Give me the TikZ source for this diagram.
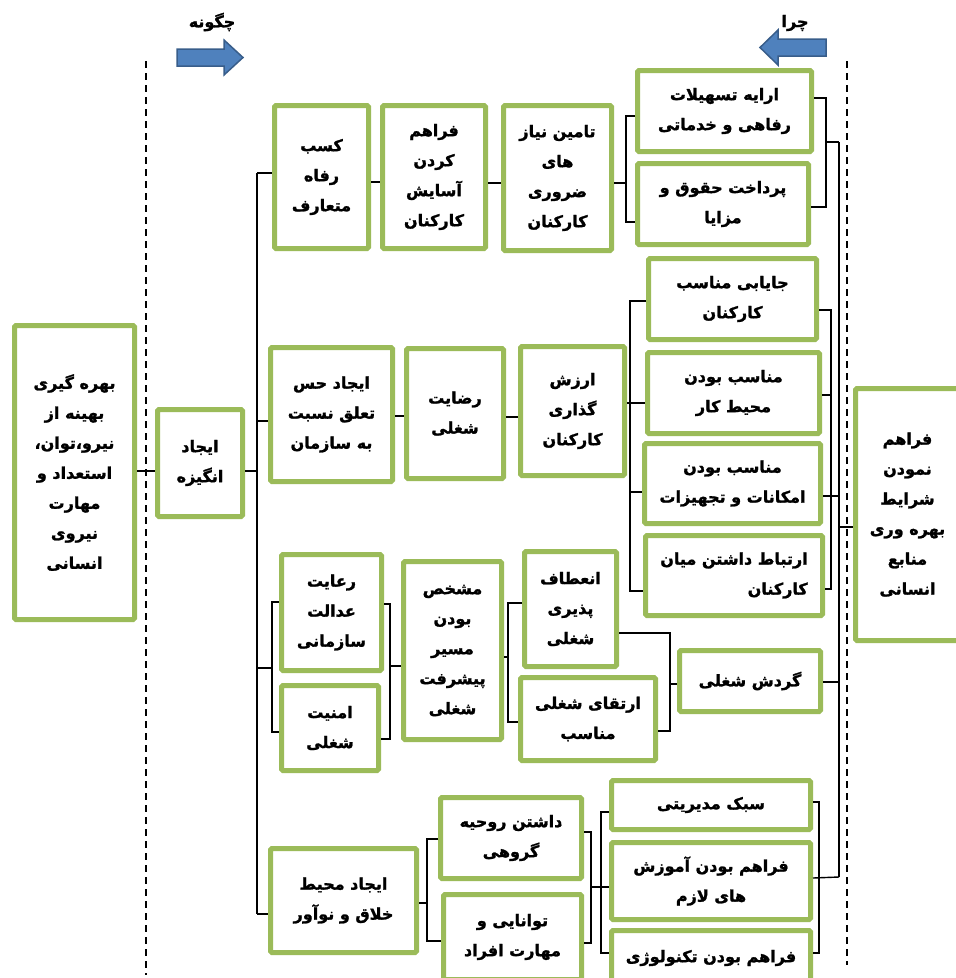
\documentclass[tikz,border=0pt]{standalone}
\usepackage{fontspec}
\TeXXeTstate=1
\newfontfamily\arabicfont[Script=Arabic, BoldFeatures={FakeBold=1.5}]{DejaVu Sans}
\definecolor{boxgreen}{HTML}{9BBB59}
\definecolor{arrowblue}{HTML}{4F81BD}
\definecolor{arrowedge}{HTML}{385D8A}
\newcommand{\rl}[1]{\beginR #1\endR}

\begin{document}
\begin{tikzpicture}[x=1pt,y=-1pt,
  box/.style={draw=boxgreen, line width=5pt, rounded corners=1.5pt, fill=white, align=center, inner sep=2pt,
    font=\arabicfont\bfseries\fontsize{16}{30}\selectfont},
  dims/.style 2 args={minimum width=#1pt, minimum height=#2pt},
  link/.style={line width=1.4pt},
  guide/.style={line width=1.4pt, dash pattern=on 7pt off 5pt},
  blockarrow/.style={fill=arrowblue, draw=arrowedge, line width=1.5pt},
  lbl/.style={font=\arabicfont\bfseries\fontsize{16}{18}\selectfont}]

\useasboundingbox (0,0) rectangle (956,978);

% guide lines and arrows
\draw[guide] (146,61) -- (146,975);
\draw[guide] (847,61) -- (847,965);
\node[lbl] (how) at (212,22) {\rl{چگونه}};
\draw[blockarrow] (177,49) -- (224,49) -- (224,40) -- (243,57.5) -- (224,75) -- (224,66) -- (177,66) -- cycle;
\node[lbl] (why) at (795,23) {\rl{چرا}};
\draw[blockarrow] (826,39) -- (778,39) -- (778,30) -- (760,47.5) -- (778,65) -- (778,56) -- (826,56) -- cycle;

% main boxes
\node[box, dims={120}{294}] (goal) at (74.5,472.5) {\rl{بهره گیری}\\\rl{بهینه از}\\\rl{نیرو،توان،}\\\rl{استعداد و}\\\rl{مهارت}\\\rl{نیروی}\\\rl{انسانی}};
\node[box, dims={85}{107}] (angize) at (200,463) {\rl{ایجاد}\\\rl{انگیزه}};
\node[box, dims={104}{252}] (sharayet) at (907.5,514.5) {\rl{فراهم}\\\rl{نمودن}\\\rl{شرایط}\\\rl{بهره وری}\\\rl{منابع}\\\rl{انسانی}};

% row 1
\node[box, dims={94}{143}] (kasb) at (321.5,177) {\rl{کسب}\\\rl{رفاه}\\\rl{متعارف}};
\node[box, dims={103}{143}] (asayesh) at (434,177) {\rl{فراهم}\\\rl{کردن}\\\rl{آسایش}\\\rl{کارکنان}};
\node[box, dims={108}{145}] (tamin) at (557.5,178) {\rl{تامین نیاز}\\\rl{های}\\\rl{ضروری}\\\rl{کارکنان}};
\node[box, dims={174}{81}] (tashilat) at (724.5,111) {\rl{ارایه تسهیلات}\\\rl{رفاهی و خدماتی}};
\node[box, dims={171}{81}] (hoghogh) at (723,204) {\rl{پرداخت حقوق و}\\\rl{مزایا}};

% row 2
\node[box, dims={122}{134}] (taalogh) at (331.5,414.5) {\rl{ایجاد حس}\\\rl{تعلق نسبت}\\\rl{به سازمان}};
\node[box, dims={97}{130}] (rezayat) at (455,413.5) {\rl{رضایت}\\\rl{شغلی}};
\node[box, dims={104}{129}] (arzesh) at (572.5,411) {\rl{ارزش}\\\rl{گذاری}\\\rl{کارکنان}};
\node[box, dims={168}{81}] (jayabi) at (732.5,299) {\rl{جایابی مناسب}\\\rl{کارکنان}};
\node[box, dims={172}{81}] (mohit) at (733.5,393) {\rl{مناسب بودن}\\\rl{محیط کار}};
\node[box, dims={176}{80}] (emkanat) at (732.5,483.5) {\rl{مناسب بودن}\\\rl{امکانات و تجهیزات}};
\node[box, dims={177}{80}, align=right] (ertebat) at (734,575.5) {\rl{ارتباط داشتن میان}\\\rl{کارکنان}};

% row 3
\node[box, dims={100}{116}] (edalat) at (331.5,612.5) {\rl{رعایت}\\\rl{عدالت}\\\rl{سازمانی}};
\node[box, dims={97}{85}] (amniat) at (330,728) {\rl{امنیت}\\\rl{شغلی}};
\node[box, dims={98}{178}] (moshakhas) at (452.5,650.5) {\rl{مشخص}\\\rl{بودن}\\\rl{مسیر}\\\rl{پیشرفت}\\\rl{شغلی}};
\node[box, dims={92}{115}] (enetaf) at (570.5,609) {\rl{انعطاف}\\\rl{پذیری}\\\rl{شغلی}};
\node[box, dims={135}{83}] (ertegha) at (588,719) {\rl{ارتقای شغلی}\\\rl{مناسب}};
\node[box, dims={141}{61}] (gardesh) at (750,681) {\rl{گردش شغلی}};

% row 4
\node[box, dims={146}{104}] (khalagh) at (343.5,900.5) {\rl{ایجاد محیط}\\\rl{خلاق و نوآور}};
\node[box, dims={141}{81}] (rouhie) at (511,838) {\rl{داشتن روحیه}\\\rl{گروهی}};
\node[box, dims={138}{85}] (tavanaei) at (512.5,937) {\rl{توانایی و}\\\rl{مهارت افراد}};
\node[box, dims={199}{49}] (sabk) at (711,805) {\rl{سبک مدیریتی}};
\node[box, dims={199}{77}] (amoozesh) at (711,881) {\rl{فراهم بودن آموزش}\\\rl{های لازم}};
\node[box, dims={199}{55}] (technology) at (711,958) {\rl{فراهم بودن تکنولوژی}};

% trunks
\coordinate (trunkL) at (257,0);
\coordinate (trunkR) at (839,0);
\draw[link] (trunkL |- kasb.west) ++(0,-4) -- (257,914);
\draw[link] (839,142) -- (839,877);

% left side
\draw[link] (goal.east |- 0,471) -- (angize.west |- 0,471);
\draw[link] (angize.east |- 0,471) -- (trunkL |- 0,471);
\draw[link] (trunkL |- 0,173) -- (kasb.west |- 0,173);
\draw[link] (trunkL |- 0,421) -- (taalogh.west |- 0,421);
\draw[link] (trunkL |- 0,668) -- (272,668);
\draw[link] (edalat.west |- 0,602) -- (272,602) -- (272,732) -- (amniat.west |- 0,732);
\draw[link] (trunkL |- 0,914) -- (khalagh.west |- 0,914);

% row 1
\draw[link] (kasb.east |- 0,182) -- (asayesh.west |- 0,182);
\draw[link] (asayesh.east |- 0,183) -- (tamin.west |- 0,183);
\draw[link] (tamin.east |- 0,183) -- (626,183);
\draw[link] (tashilat.west |- 0,116) -- (626,116) -- (626,222) -- (hoghogh.west |- 0,222);
\draw[link] (tashilat.east |- 0,98) -- (826,98) -- (826,207) -- (hoghogh.east |- 0,207);
\draw[link] (826,142) -- (trunkR |- 0,142);

% row 2
\draw[link] (taalogh.east |- 0,416) -- (rezayat.west |- 0,416);
\draw[link] (rezayat.east |- 0,417) -- (arzesh.west |- 0,417);
\draw[link] (arzesh.east |- 0,403) -- (mohit.west |- 0,403);
\draw[link] (jayabi.west |- 0,301) -- (630,301) -- (630,591) -- (ertebat.west |- 0,591);
\draw[link] (630,492) -- (emkanat.west |- 0,492);
\draw[link] (jayabi.east |- 0,310) -- (831,310) -- (831,589) -- (ertebat.east |- 0,589);
\draw[link] (mohit.east |- 0,395) -- (831,395);
\draw[link] (emkanat.east |- 0,496) -- (trunkR |- 0,496);
\draw[link] (trunkR |- 0,527) -- (sharayet.west |- 0,527);

% row 3
\draw[link] (edalat.east |- 0,604) -- (390,604) -- (390,739) -- (amniat.east |- 0,739);
\draw[link] (390,666) -- (moshakhas.west |- 0,666);
\draw[link] (moshakhas.east |- 0,657) -- (508,657);
\draw[link] (enetaf.west |- 0,603) -- (508,603) -- (508,722) -- (ertegha.west |- 0,722);
\draw[link] (enetaf.east |- 0,633) -- (670,633) -- (670,731) -- (ertegha.east |- 0,731);
\draw[link] (670,684) -- (gardesh.west |- 0,684);
\draw[link] (gardesh.east |- 0,682) -- (trunkR |- 0,682);

% row 4
\draw[link] (khalagh.east |- 0,903) -- (427,903);
\draw[link] (rouhie.west |- 0,839) -- (427,839) -- (427,941) -- (tavanaei.west |- 0,941);
\draw[link] (rouhie.east |- 0,832) -- (591,832) -- (591,943) -- (tavanaei.east |- 0,943);
\draw[link] (591,887) -- (amoozesh.west |- 0,887);
\draw[link] (sabk.west |- 0,812) -- (601,812) -- (601,953) -- (technology.west |- 0,953);
\draw[link] (sabk.east |- 0,802) -- (819,802) -- (819,953) -- (technology.east |- 0,953);
\draw[link] (amoozesh.east |- 0,878) -- (trunkR |- 0,877);
\end{tikzpicture}
\end{document}
